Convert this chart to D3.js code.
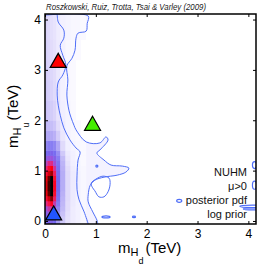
<!DOCTYPE html>
<html>
<head>
<meta charset="utf-8">
<script src="https://cdn.jsdelivr.net/npm/d3@7"></script>
<style>
  body { margin: 0; background: #fff; }
  svg { display: block; font-family: "Liberation Sans", Arial, sans-serif; }
</style>
</head>
<body>
<div id="chart"></div>
<script>
// posterior pdf, binned (x in TeV bins, y in TeV bins, values 0..1)
var xEdges = [0, 0.05, 0.1, 0.16, 0.22, 0.3, 0.4, 0.5, 0.6, 0.7, 0.8];
var yEdges = [0, 0.1, 0.2, 0.3, 0.4, 0.5, 0.6, 0.7, 0.8, 0.9, 1.0, 1.1, 1.2, 1.3, 1.4, 1.6, 1.8, 2.0, 2.4, 2.8, 3.2, 3.6, 4.2];
var pdf = [
  [0.45, 0.48, 0.48, 0.45, 0.32, 0.20, 0.12, 0.07, 0.05, 0.03],
  [0.50, 0.55, 0.55, 0.50, 0.35, 0.22, 0.13, 0.07, 0.05, 0.03],
  [0.58, 0.63, 0.64, 0.56, 0.38, 0.24, 0.14, 0.07, 0.05, 0.03],
  [0.66, 0.72, 0.76, 0.62, 0.41, 0.25, 0.14, 0.08, 0.05, 0.03],
  [0.74, 0.84, 0.92, 0.70, 0.43, 0.26, 0.15, 0.08, 0.05, 0.03],
  [0.80, 0.94, 1.00, 0.75, 0.44, 0.27, 0.15, 0.08, 0.05, 0.03],
  [0.82, 0.96, 1.00, 0.76, 0.45, 0.28, 0.15, 0.08, 0.05, 0.03],
  [0.82, 0.96, 1.00, 0.76, 0.45, 0.28, 0.15, 0.08, 0.05, 0.03],
  [0.80, 0.94, 1.00, 0.75, 0.45, 0.28, 0.15, 0.08, 0.05, 0.03],
  [0.74, 0.84, 0.90, 0.70, 0.44, 0.28, 0.15, 0.08, 0.05, 0.03],
  [0.67, 0.75, 0.78, 0.64, 0.43, 0.27, 0.14, 0.07, 0.04, 0.03],
  [0.60, 0.66, 0.66, 0.58, 0.42, 0.26, 0.12, 0.06, 0.04, 0.02],
  [0.52, 0.56, 0.56, 0.50, 0.40, 0.24, 0.10, 0.05, 0.03, 0.02],
  [0.45, 0.47, 0.47, 0.44, 0.36, 0.20, 0.08, 0.05, 0.03, 0.02],
  [0.38, 0.40, 0.40, 0.38, 0.30, 0.15, 0.06, 0.04, 0.03, 0.02],
  [0.30, 0.30, 0.29, 0.27, 0.19, 0.10, 0.05, 0.03, 0.02, 0],
  [0.25, 0.24, 0.23, 0.21, 0.14, 0.08, 0.04, 0.03, 0.02, 0],
  [0.22, 0.20, 0.19, 0.17, 0.11, 0.06, 0.04, 0.02, 0, 0],
  [0.20, 0.18, 0.17, 0.15, 0.10, 0.05, 0.03, 0.02, 0, 0],
  [0.19, 0.17, 0.16, 0.14, 0.09, 0.05, 0.03, 0.02, 0, 0],
  [0.18, 0.16, 0.14, 0.12, 0.08, 0.05, 0.03, 0.02, 0.02, 0],
  [0.17, 0.15, 0.13, 0.11, 0.07, 0.05, 0.04, 0.03, 0.03, 0.02]
];

// 95% and 68% credible contours (TeV)
var outer = [[0.02,4.09],[0.85,4.07],[0.83,3.92],[0.81,3.77],[0.65,3.73],[0.61,3.63],[0.59,3.39],[0.53,3.23],
  [0.43,3.08],[0.45,2.80],[0.43,2.50],[0.47,2.20],[0.51,2.06],[0.57,1.90],[0.61,1.81],[0.81,1.57],[1.08,1.55],
  [1.20,1.67],[1.24,1.61],[1.08,1.41],[1.02,1.35],[1.16,1.21],[1.30,1.11],[1.52,1.09],[1.65,1.05],[1.59,0.97],
  [1.42,0.91],[1.16,0.87],[0.98,0.81],[0.89,0.71],[0.85,0.52],[0.85,0.38],[0.94,0.18],[1.02,0.02],[1.04,-0.06]];
var inner = [[0.24,4.11],[0.26,3.95],[0.37,3.79],[0.37,3.63],[0.30,3.49],[0.35,3.29],[0.41,3.10],[0.35,2.90],
  [0.26,2.76],[0.24,2.50],[0.26,2.30],[0.30,2.10],[0.37,1.85],[0.49,1.61],[0.61,1.45],[0.69,1.37],[0.65,1.21],
  [0.63,0.91],[0.63,0.62],[0.67,0.42],[0.77,0.18],[0.85,-0.06]];
var hole = [[0.91,0.75],[1.00,0.83],[1.14,0.89],[1.26,0.85],[1.28,0.73],[1.24,0.58],[1.16,0.48],[1.06,0.48],[0.98,0.60],[0.93,0.67]];
// small isolated islands: [x, y, rx, ry]
var islands = [[1.20,0.08,0.08,0.02],[1.75,0.08,0.03,0.015],[1.02,1.09,0.02,0.02],[2.64,0.40,0.05,0.03],
  [4.12,1.11,0.04,0.07],[4.12,0.71,0.04,0.08],[4.08,0.29,0.25,0.025],[4.10,0.24,0.2,0.02]];

// benchmark points (red, green, blue)
var bench = [[0.26,3.19,"#ff0000"],[0.935,1.94,"#44ee00"],[0.17,0.16,"#2255ff"]];

var xTicks = [0, 1, 2, 3, 4];
var yTicks = [0, 1, 2, 3, 4];
var legendLines = ["NUHM", "\u03bc>0", "posterior pdf", "log prior"];
var credit = "Roszkowski, Ruiz, Trotta, Tsai & Varley (2009)";

var W = 258, H = 272;
var margin = {top: 14, right: 2, bottom: 48, left: 45};
var width = W - margin.left - margin.right,
    height = H - margin.top - margin.bottom;

var x = d3.scaleLinear().domain([0, 4.15]).range([0, width]);
var y = d3.scaleLinear().domain([-0.06, 4.11]).range([height, 0]);

var color = d3.scaleLinear()
  .domain([0, 0.05, 0.15, 0.3, 0.45, 0.58, 0.68, 0.78, 0.9, 1])
  .range(["#ffffff", "#f3f1ff", "#e0dafb", "#b0a6f5", "#7468f0", "#a050d8", "#ee2070", "#ff0010", "#a00000", "#000000"])
  .clamp(true);

var svg = d3.select("#chart").append("svg")
    .attr("width", W)
    .attr("height", H);

var defs = svg.append("defs");
defs.append("clipPath").attr("id", "plotclip")
  .append("rect").attr("width", width).attr("height", height);
defs.append("filter").attr("id", "soft")
  .attr("x", "-10%").attr("y", "-10%").attr("width", "120%").attr("height", "120%")
  .append("feGaussianBlur").attr("stdDeviation", 0.7);

var g = svg.append("g")
    .attr("transform", "translate(" + margin.left + "," + margin.top + ")");

var plot = g.append("g").attr("clip-path", "url(#plotclip)");

// light fills of credible regions
function closed(pts){
  return [[-0.2, pts[0][1]]].concat(pts).concat([[-0.2, pts[pts.length-1][1]]]);
}
var area = d3.line().x(function(d){ return x(d[0]); }).y(function(d){ return y(d[1]); }).curve(d3.curveCatmullRom);
plot.append("path").attr("d", area(closed(outer)) + "Z").attr("fill", "#f4f2ff");
plot.append("path").attr("d", area(closed(inner)) + "Z").attr("fill", "#ece8fd");

// heat cells (edge cells run under the axes so the blur does not fade them)
var cells = [];
pdf.forEach(function(row, j){
  row.forEach(function(v, i){
    if (v > 0) cells.push({i: i, j: j, x0: xEdges[i], x1: xEdges[i+1], y0: yEdges[j], y1: yEdges[j+1], v: v});
  });
});
plot.append("g").attr("filter", "url(#soft)")
  .selectAll(".cell")
  .data(cells)
  .enter().append("rect")
    .attr("class", "cell")
    .attr("x", function(d){ return x(d.x0) - (d.i == 0 ? 6 : 0); })
    .attr("y", function(d){ return y(d.y1) - (d.j == pdf.length - 1 ? 6 : 0); })
    .attr("width", function(d){ return x(d.x1) - x(d.x0) + 0.4 + (d.i == 0 ? 6 : 0); })
    .attr("height", function(d){ return y(d.y0) - y(d.y1) + 0.4 + (d.j == 0 || d.j == pdf.length - 1 ? 6 : 0); })
    .attr("fill", function(d){ return color(d.v); });

// contours
var line = d3.line().x(function(d){ return x(d[0]); }).y(function(d){ return y(d[1]); }).curve(d3.curveCatmullRom);
var contourColor = "#4f6ef7";
[outer, inner].forEach(function(c){
  plot.append("path").attr("d", line(c)).attr("fill", "none")
    .attr("stroke", contourColor).attr("stroke-width", 1);
});
plot.append("path")
  .attr("d", d3.line().x(function(d){ return x(d[0]); }).y(function(d){ return y(d[1]); }).curve(d3.curveCatmullRomClosed)(hole))
  .attr("fill", "none").attr("stroke", contourColor).attr("stroke-width", 1);
plot.selectAll(".island")
  .data(islands)
  .enter().append("ellipse")
    .attr("class", "island")
    .attr("cx", function(d){ return x(d[0]); })
    .attr("cy", function(d){ return y(d[1]); })
    .attr("rx", function(d){ return x(d[2]) - x(0); })
    .attr("ry", function(d){ return y(0) - y(d[3]); })
    .attr("fill", "none").attr("stroke", contourColor).attr("stroke-width", 1.2);

// benchmark triangles
var tw = 16, th = 14;
g.selectAll(".bench")
  .data(bench)
  .enter().append("path")
    .attr("class", "bench")
    .attr("d", function(d){
      var cx = x(d[0]), cy = y(d[1]);
      return "M" + cx + "," + (cy - th/2) + "L" + (cx + tw/2) + "," + (cy + th/2) + "L" + (cx - tw/2) + "," + (cy + th/2) + "Z";
    })
    .attr("fill", function(d){ return d[2]; })
    .attr("stroke", "#000").attr("stroke-width", 1.2).attr("stroke-linejoin", "miter");

// legend text
g.selectAll(".leg")
  .data(legendLines)
  .enter().append("text")
    .attr("class", "leg")
    .attr("x", width - 9)
    .attr("y", function(d, i){ return 162 + i * 14; })
    .attr("text-anchor", "end")
    .attr("font-size", 11)
    .attr("fill", "#111")
    .text(function(d){ return d; });

// axes, matlab style box with inward ticks
function styleAxis(sel){
  sel.select(".domain").remove();
  sel.selectAll(".tick line").attr("stroke", "#000").attr("stroke-width", 1);
  sel.selectAll(".tick text").attr("font-size", 12).attr("fill", "#000")
    .attr("font-family", "Liberation Sans, Arial, sans-serif");
}
g.append("g").attr("transform", "translate(0," + height + ")")
  .call(d3.axisBottom(x).tickValues(xTicks).tickFormat(d3.format("d")).tickSizeInner(-3).tickSizeOuter(0).tickPadding(5))
  .call(styleAxis);
g.append("g")
  .call(d3.axisTop(x).tickValues(xTicks).tickFormat("").tickSizeInner(-3).tickSizeOuter(0))
  .call(styleAxis);
g.append("g")
  .call(d3.axisLeft(y).tickValues(yTicks).tickFormat(d3.format("d")).tickSizeInner(-3).tickSizeOuter(0).tickPadding(4))
  .call(styleAxis);
g.append("g").attr("transform", "translate(" + width + ",0)")
  .call(d3.axisRight(y).tickValues(yTicks).tickFormat("").tickSizeInner(-3).tickSizeOuter(0))
  .call(styleAxis);
g.append("rect").attr("width", width).attr("height", height)
  .attr("fill", "none").attr("stroke", "#000").attr("stroke-width", 1.5);

// axis labels
var xl = svg.append("text")
    .attr("x", 118).attr("y", 253)
    .attr("font-size", 15).attr("fill", "#000");
xl.append("tspan").text("m");
xl.append("tspan").attr("font-size", 11).attr("dy", 3).text("H");
xl.append("tspan").attr("font-size", 9).attr("dy", 8).text("d");
xl.append("tspan").attr("dy", -11).attr("dx", 2).text("(TeV)");

var yl = svg.append("text")
    .attr("transform", "translate(18,148) rotate(-90)")
    .attr("font-size", 15).attr("fill", "#000");
yl.append("tspan").text("m");
yl.append("tspan").attr("font-size", 11).attr("dy", 3).text("H");
yl.append("tspan").attr("font-size", 9).attr("dy", 8).text("u");
yl.append("tspan").attr("dy", -11).attr("dx", 2).text("(TeV)");

svg.append("text")
  .attr("x", 46).attr("y", 9.5)
  .attr("font-size", 8.2).attr("font-style", "italic").attr("fill", "#222")
  .attr("textLength", 160).attr("lengthAdjust", "spacingAndGlyphs")
  .text(credit);
</script>
</body>
</html>
